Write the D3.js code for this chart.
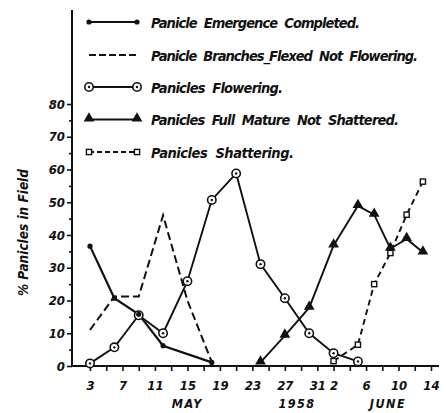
<!DOCTYPE html>
<html>
<head>
<meta charset="utf-8">
<script src="https://cdn.jsdelivr.net/npm/d3@7"></script>
<style>
body { margin: 0; background: #fff; }
text { font-family: "DejaVu Sans Condensed", "DejaVu Sans", sans-serif; font-weight: bold; font-style: italic; fill: #111; }
</style>
</head>
<body>
<svg width="446" height="413"></svg>
<script>
// day numbers count from May 1 (June 2 = day 33)
var emergenceDays = [3, 6, 9, 12, 18];
var emergence = [36.6, 20.7, 15.8, 6.2, 1.1];

var flexedDays = [3, 6, 9, 12, 15, 18];
var flexed = [11, 21.2, 21.2, 46, 20, 1.2];

var floweringDays = [3, 6, 9, 12, 15, 18, 21, 24, 27, 30, 33, 36];
var flowering = [0.8, 5.7, 15.5, 10, 25.9, 50.7, 58.8, 31.1, 20.7, 10, 3.9, 1.4];

var matureDays = [24, 27, 30, 33, 36, 38, 40, 42, 44];
var mature = [1.1, 9.3, 17.8, 36.8, 48.9, 46.2, 35.8, 38.8, 34.7];

var shatterDays = [33, 36, 38, 40, 42, 44];
var shatter = [1.5, 6.5, 25, 34.5, 46.2, 56.3];

var tickDays = [3, 7, 11, 15, 19, 23, 27, 31, 33, 37, 41, 45];
var tickLabels = ["3", "7", "11", "15", "19", "23", "27", "31", "2", "6", "10", "14"];
var monthLabels = ["MAY", "1958", "JUNE"];
var monthDays = [15, 28.5, 39.7];

var legendLabels = [
  "Panicle  Emergence  Completed.",
  "Panicle  Branches_Flexed  Not  Flowering.",
  "Panicles  Flowering.",
  "Panicles  Full  Mature  Not  Shattered.",
  "Panicles  Shattering."
];

var svg = d3.select("svg");
var x = d3.scaleLinear().domain([3, 45]).range([90, 431]);
var y = d3.scaleLinear().domain([0, 80]).range([366, 104]);

function pts(days, vals) {
  return days.map(function(d, i) { return [d, vals[i]]; });
}

// axes
svg.append("line").attr("x1", 72).attr("x2", 72).attr("y1", 10).attr("y2", y(0))
  .attr("stroke", "#111").attr("stroke-width", 2);
svg.append("line").attr("x1", 71).attr("x2", 439).attr("y1", y(0)).attr("y2", y(0))
  .attr("stroke", "#111").attr("stroke-width", 2);

var yAxis = svg.append("g").attr("transform", "translate(72,0)")
  .call(d3.axisLeft(y).tickValues(d3.range(0, 81, 10)).tickSize(5).tickPadding(2));
var yMinor = svg.append("g").attr("transform", "translate(72,0)")
  .call(d3.axisLeft(y).tickValues(d3.range(5, 80, 10)).tickSize(3).tickFormat(""));

var labelOf = {};
tickDays.forEach(function(d, i) { labelOf[d] = tickLabels[i]; });
var xAxis = svg.append("g").attr("transform", "translate(0," + y(0) + ")")
  .call(d3.axisBottom(x).tickValues(d3.range(3, 46, 2)).tickSize(5).tickPadding(10)
    .tickFormat(function(d) { return labelOf[d] || ""; }));

[yAxis, yMinor, xAxis].forEach(function(g) {
  g.select(".domain").remove();
  g.selectAll("line").attr("stroke", "#111").attr("stroke-width", 1.6);
  g.selectAll("text").attr("font-size", 13).attr("fill", "#111");
});

svg.selectAll(".month")
  .data(monthLabels)
  .enter()
  .append("text")
  .attr("x", function(d, i) { return x(monthDays[i]); })
  .attr("y", 408)
  .attr("text-anchor", "middle")
  .attr("font-size", 12.5)
  .attr("letter-spacing", 1.5)
  .text(function(d) { return d; });

svg.append("text")
  .attr("transform", "translate(28,296) rotate(-90)")
  .attr("font-size", 13.5)
  .attr("textLength", 127)
  .attr("lengthAdjust", "spacing")
  .text("% Panicles in Field");

var line = d3.line()
  .x(function(d) { return x(d[0]); })
  .y(function(d) { return y(d[1]); });

// series lines
svg.append("path").datum(pts(flexedDays, flexed)).attr("d", line)
  .attr("fill", "none").attr("stroke", "#111").attr("stroke-width", 2).attr("stroke-dasharray", "8,4");
svg.append("path").datum(pts(shatterDays, shatter)).attr("d", line)
  .attr("fill", "none").attr("stroke", "#111").attr("stroke-width", 1.9).attr("stroke-dasharray", "6,4");
svg.append("path").datum(pts(floweringDays, flowering)).attr("d", line)
  .attr("fill", "none").attr("stroke", "#111").attr("stroke-width", 1.9);
svg.append("path").datum(pts(matureDays, mature)).attr("d", line)
  .attr("fill", "none").attr("stroke", "#111").attr("stroke-width", 1.9);
svg.append("path").datum(pts(emergenceDays, emergence)).attr("d", line)
  .attr("fill", "none").attr("stroke", "#111").attr("stroke-width", 2.2);

// markers
function dot(g, cx, cy) {
  g.append("circle").attr("cx", cx).attr("cy", cy).attr("r", 2.6).attr("fill", "#111");
}
function ring(g, cx, cy) {
  g.append("circle").attr("cx", cx).attr("cy", cy).attr("r", 4.2)
    .attr("fill", "#fff").attr("stroke", "#111").attr("stroke-width", 1.6);
  g.append("circle").attr("cx", cx).attr("cy", cy).attr("r", 1.2).attr("fill", "#111");
}
function tri(g, cx, cy) {
  g.append("path").attr("transform", "translate(" + cx + "," + (cy - 1) + ")")
    .attr("d", d3.symbol().type(d3.symbolTriangle).size(50)).attr("fill", "#111");
}
function sq(g, cx, cy) {
  g.append("rect").attr("x", cx - 2.6).attr("y", cy - 2.6).attr("width", 5.2).attr("height", 5.2)
    .attr("fill", "#fff").attr("stroke", "#111").attr("stroke-width", 1.4);
}

var marks = svg.append("g");
pts(shatterDays, shatter).forEach(function(p) { sq(marks, x(p[0]), y(p[1])); });
pts(floweringDays, flowering).forEach(function(p) { ring(marks, x(p[0]), y(p[1])); });
pts(matureDays, mature).forEach(function(p) { tri(marks, x(p[0]), y(p[1])); });
pts(emergenceDays, emergence).forEach(function(p) { dot(marks, x(p[0]), y(p[1])); });

// legend
var legendY = [22, 55, 87, 119.5, 152];
var legendW = [209, 267, 132, 248, 143];
var styles = [
  { dash: null, mark: dot },
  { dash: "7,3", mark: null },
  { dash: null, mark: ring },
  { dash: null, mark: tri },
  { dash: "5,3", mark: sq }
];
var leg = svg.append("g");
legendLabels.forEach(function(lbl, i) {
  var ly = legendY[i];
  var st = styles[i];
  var l = leg.append("line").attr("x1", 89).attr("x2", 137).attr("y1", ly).attr("y2", ly)
    .attr("stroke", "#111").attr("stroke-width", 2);
  if (st.dash) l.attr("stroke-dasharray", st.dash);
  if (st.mark) { st.mark(leg, 89, ly); st.mark(leg, 137, ly); }
  leg.append("text")
    .attr("x", 151).attr("y", ly + 5.5)
    .attr("font-size", 14.5)
    .attr("textLength", legendW[i])
    .attr("lengthAdjust", "spacing")
    .attr("xml:space", "preserve")
    .style("white-space", "pre")
    .text(lbl);
});
</script>
</body>
</html>
